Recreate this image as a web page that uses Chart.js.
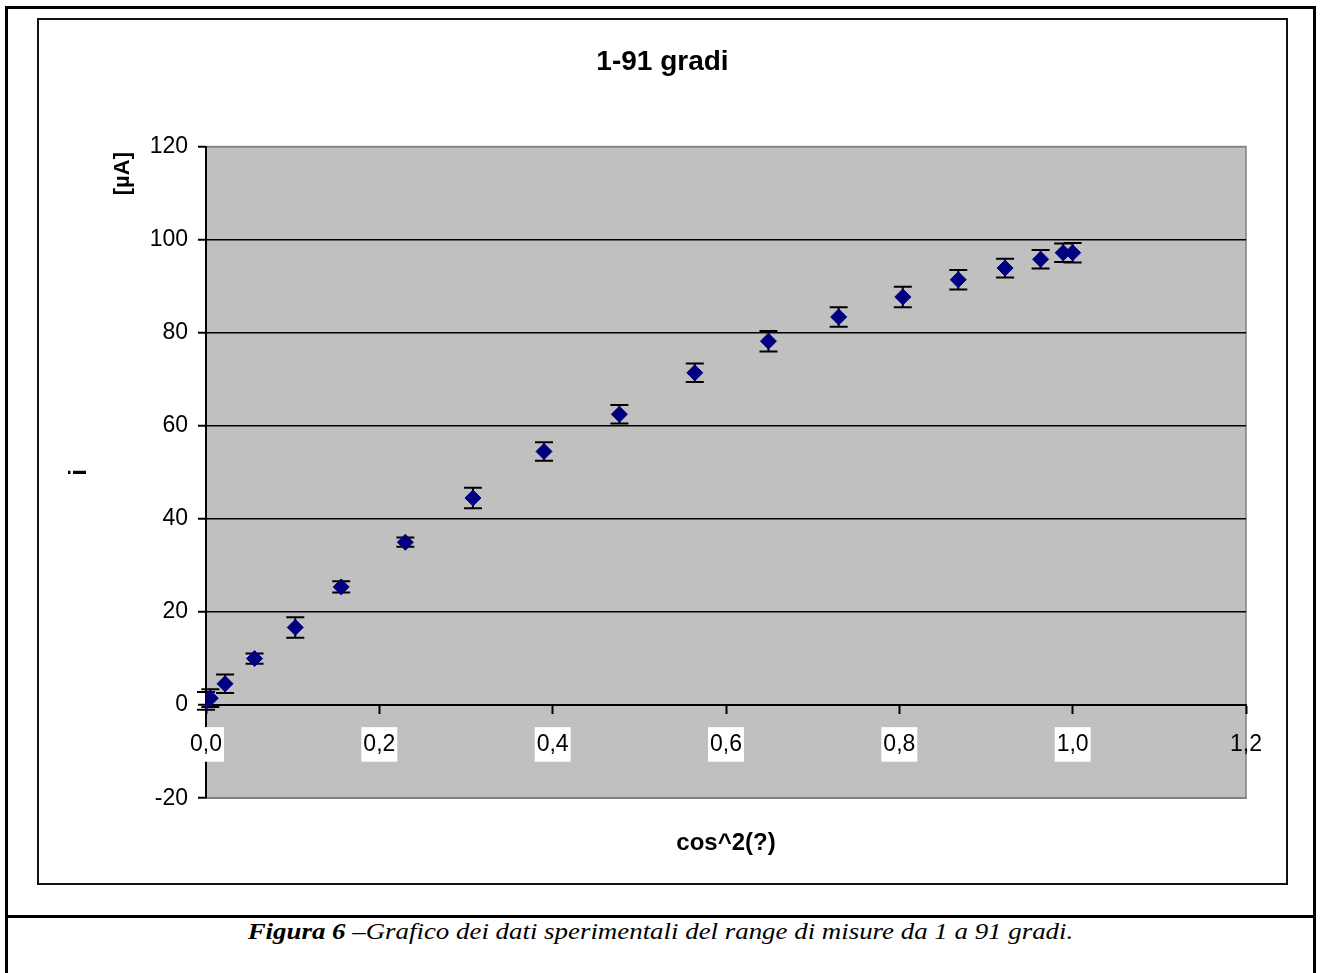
<!DOCTYPE html>
<html>
<head>
  <meta charset="UTF-8">
  <title>1-91 gradi</title>
  <script src="https://cdn.jsdelivr.net/npm/chart.js@4.4.1/dist/chart.umd.min.js"></script>
  <style>
    html, body { margin: 0; padding: 0; background: #fff; overflow: hidden; }
    #page { position: absolute; left: 5px; top: 6px; width: 1305px; height: 1000px; border: 3px solid #000; }
    #sep { position: absolute; left: 5px; top: 915px; width: 1311px; height: 3px; background: #000; }
    #box { position: absolute; left: 37px; top: 18px; width: 1247px; height: 863px; border: 2px solid #111; }
    #caption { position: absolute; left: 0; top: 917px; width: 1321px; text-align: center;
      font-family: "Liberation Serif", "Times New Roman", serif; font-style: italic; font-size: 24px; line-height: 28px;
      transform: scaleX(1.12); transform-origin: 661px 0; }
  </style>
  <script>
    // angoli 91..1 gradi, cos^2
    var xVals = [0.000, 0.005, 0.022, 0.056, 0.103, 0.156, 0.230, 0.308, 0.390, 0.477,
                 0.564, 0.649, 0.730, 0.804, 0.868, 0.922, 0.963, 0.989, 1.000];
    var yVals = [0.9, 1.5, 4.6, 10.0, 16.7, 25.4, 35.0, 44.5, 54.5, 62.5,
                 71.4, 78.2, 83.4, 87.7, 91.4, 93.9, 95.8, 97.2, 97.2];
    var yErr  = [1.9, 1.9, 2.0, 1.1, 2.2, 1.2, 1.0, 2.2, 2.0, 2.0,
                 2.0, 2.2, 2.1, 2.2, 2.1, 2.0, 2.0, 2.0, 2.1];
    var xTicks = { min: 0, max: 1.2, step: 0.2 };
    var yTicks = { min: -20, max: 120, step: 20 };
  </script>
</head>
<body>
<div id="page"></div>
<div id="sep"></div>
<div id="box"><canvas id="c" width="1247" height="863"></canvas></div>
<div id="caption"><b>Figura 6</b> –Grafico dei dati sperimentali del range di misure da 1 a 91 gradi.</div>

<script>
  Chart.defaults.font.family = '"Liberation Sans", Arial, sans-serif';
  Chart.defaults.color = '#000';

  // sfondo grigio dell'area del grafico
  var plotBg = {
    id: 'plotBg',
    beforeDraw: function(chart) {
      var a = chart.chartArea, ctx = chart.ctx;
      ctx.save();
      ctx.fillStyle = '#c0c0c0';
      ctx.fillRect(a.left, a.top, a.right - a.left, a.bottom - a.top);
      ctx.strokeStyle = '#808080';
      ctx.lineWidth = 1.5;
      ctx.strokeRect(a.left, a.top, a.right - a.left, a.bottom - a.top);
      ctx.restore();
    }
  };

  // barre d'errore verticali
  var errBars = {
    id: 'errBars',
    beforeDatasetsDraw: function(chart) {
      var xs = chart.scales.x, ys = chart.scales.y, ctx = chart.ctx;
      ctx.save();
      ctx.strokeStyle = '#000';
      ctx.lineWidth = 2;
      for (var i = 0; i < xVals.length; i++) {
        var px = xs.getPixelForValue(xVals[i]);
        var t = ys.getPixelForValue(yVals[i] + yErr[i]);
        var b = ys.getPixelForValue(yVals[i] - yErr[i]);
        ctx.beginPath();
        ctx.moveTo(px, t); ctx.lineTo(px, b);
        ctx.moveTo(px - 9, t); ctx.lineTo(px + 9, t);
        ctx.moveTo(px - 9, b); ctx.lineTo(px + 9, b);
        ctx.stroke();
      }
      ctx.restore();
    }
  };

  // titoli dell'asse y: "i" e unita' di misura
  var yLabels = {
    id: 'yLabels',
    afterDraw: function(chart) {
      var a = chart.chartArea, ctx = chart.ctx;
      ctx.save();
      ctx.fillStyle = '#000';
      ctx.textAlign = 'center';
      ctx.textBaseline = 'middle';
      ctx.font = 'bold 24px "Liberation Sans", Arial, sans-serif';
      ctx.translate(a.left - 127, (a.top + a.bottom) / 2);
      ctx.rotate(-Math.PI / 2);
      ctx.fillText('i', 0, 0);
      ctx.restore();

      ctx.save();
      ctx.fillStyle = '#000';
      ctx.textAlign = 'center';
      ctx.textBaseline = 'middle';
      ctx.font = 'bold 22px "Liberation Sans", Arial, sans-serif';
      ctx.translate(a.left - 83, a.top + 27);
      ctx.rotate(-Math.PI / 2);
      ctx.fillText('[µA]', 0, 0);
      ctx.restore();
    }
  };

  var points = xVals.map(function(x, i) { return { x: x, y: yVals[i] }; });

  new Chart(document.getElementById('c'), {
    type: 'scatter',
    data: {
      datasets: [{
        label: 'i',
        data: points,
        pointStyle: 'rectRot',
        pointRadius: 8,
        pointHoverRadius: 8,
        backgroundColor: '#000080',
        borderColor: '#000080',
        borderWidth: 1
      }]
    },
    options: {
      responsive: false,
      animation: false,
      devicePixelRatio: 1,
      layout: { padding: { left: 40, right: 40, top: 0, bottom: 0 } },
      plugins: {
        legend: { display: false },
        tooltip: { enabled: false },
        title: {
          display: true,
          text: '1-91 gradi',
          font: { size: 28, weight: 'bold' },
          color: '#000',
          padding: { top: 25, bottom: 68 }
        },
        subtitle: {
          display: true,
          position: 'bottom',
          fullSize: false,
          text: 'cos^2(?)',
          font: { size: 24, weight: 'bold' },
          color: '#000',
          padding: { top: 31, bottom: 25 }
        }
      },
      scales: {
        x: {
          type: 'linear',
          position: { y: 0 },
          min: xTicks.min,
          max: xTicks.max,
          ticks: {
            z: 1,
            stepSize: xTicks.step,
            maxRotation: 0,
            autoSkip: false,
            font: { size: 23 },
            color: '#000',
            padding: 18,
            showLabelBackdrop: true,
            backdropColor: function(ctx) {
              return ctx.tick && ctx.tick.value > 1.1 ? 'rgba(0,0,0,0)' : '#fff';
            },
            backdropPadding: { top: 4, bottom: 3, left: 2, right: 2 },
            callback: function(v) { return v.toFixed(1).replace('.', ','); }
          },
          grid: { drawOnChartArea: false, tickLength: 8, tickColor: '#000', tickWidth: 2 },
          border: { color: '#000', width: 2 }
        },
        y: {
          type: 'linear',
          min: yTicks.min,
          max: yTicks.max,
          ticks: {
            stepSize: yTicks.step,
            font: { size: 23 },
            color: '#000',
            padding: 10
          },
          grid: {
            color: function(ctx) {
              var v = ctx.tick ? ctx.tick.value : 0;
              return (v <= yTicks.min || v >= yTicks.max) ? '#808080' : '#000';
            },
            lineWidth: 1.5,
            tickLength: 8,
            tickColor: '#000',
            tickWidth: 2
          },
          border: { color: '#000', width: 2 },
          afterFit: function(s) { s.width = 127; }
        }
      }
    },
    plugins: [plotBg, errBars, yLabels]
  });
</script>
</body>
</html>
